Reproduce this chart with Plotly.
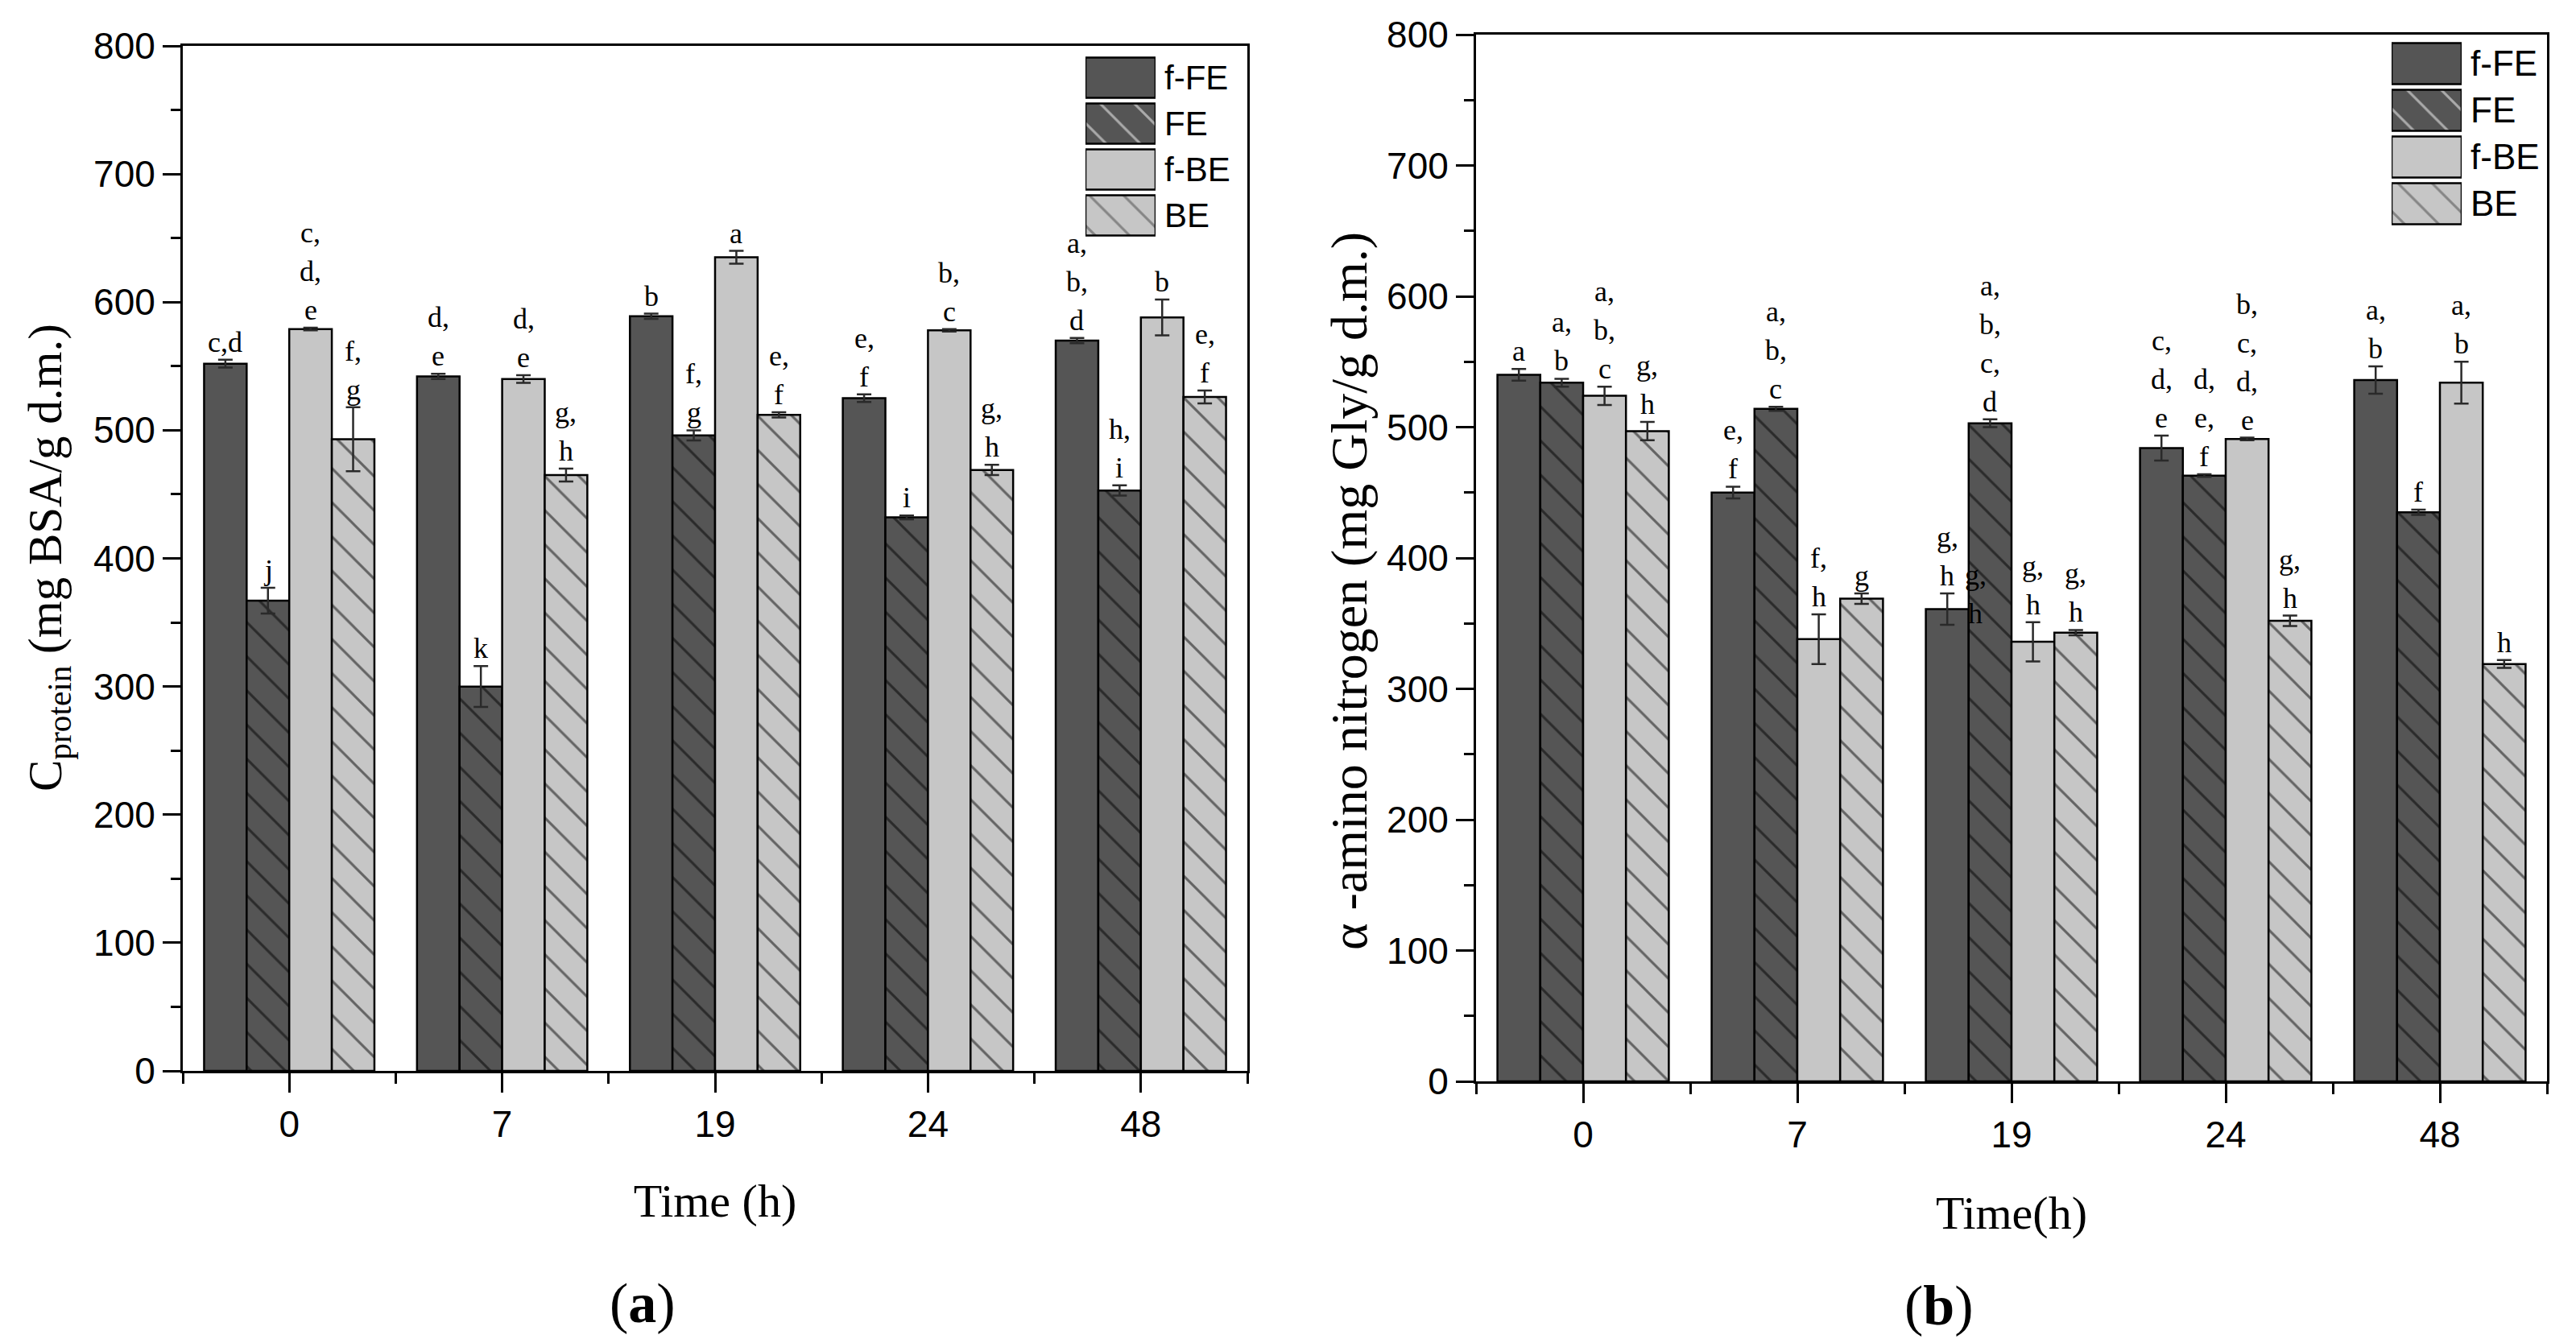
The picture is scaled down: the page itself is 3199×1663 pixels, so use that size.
import plotly.graph_objects as go

# ---------------- data ----------------
times = ["0", "7", "19", "24", "48"]
series = ["f-FE", "FE", "f-BE", "BE"]

# (a) C_protein (mg BSA/g d.m.)
prot_ffe = [552, 542, 589, 525, 570]
prot_ffe_err = [3, 2, 2, 3, 2]
prot_fe = [367, 300, 496, 432, 453]
prot_fe_err = [10, 16, 4, 1.5, 4]
prot_fbe = [579, 540, 635, 578, 588]
prot_fbe_err = [1, 3, 5, 1, 14]
prot_be = [493, 465, 512, 469, 526]
prot_be_err = [25, 5, 2, 4, 5]

prot_lab_ffe = [["c,d"], ["d,", "e"], ["b"], ["e,", "f"], ["a,", "b,", "d"]]
prot_lab_fe = [["j"], ["k"], ["f,", "g"], ["i"], ["h,", "i"]]
prot_lab_fbe = [["c,", "d,", "e"], ["d,", "e"], ["a"], ["b,", "c"], ["b"]]
prot_lab_be = [["f,", "g"], ["g,", "h"], ["e,", "f"], ["g,", "h"], ["e,", "f"]]

# (b) alpha-amino nitrogen (mg Gly/g d.m.)
amino_ffe = [540, 450, 361, 484, 536]
amino_ffe_err = [4.5, 4.5, 12, 9.5, 10.5]
amino_fe = [534, 514, 503, 463, 435]
amino_fe_err = [3, 1.5, 3, 1, 2]
amino_fbe = [524, 338, 336, 491, 534]
amino_fbe_err = [7, 19, 15, 1, 16]
amino_be = [497, 369, 343, 352, 319]
amino_be_err = [7, 4, 2, 4, 3]

amino_lab_ffe = [["a"], ["e,", "f"], ["g,", "h"], ["c,", "d,", "e"], ["a,", "b"]]
amino_lab_fe = [["a,", "b"], ["a,", "b,", "c"], ["a,", "b,", "c,", "d"], ["d,", "e,", "f"], ["f"]]
amino_lab_fbe = [["a,", "b,", "c"], ["f,", "h"], ["g,", "h"], ["b,", "c,", "d,", "e"], ["a,", "b"]]
amino_lab_be = [["g,", "h"], ["g"], ["g,", "h"], ["g,", "h"], ["h"]]
# stray duplicated label drawn over the FE bar at 19 h in panel (b)
amino_stray = ["g,", "h"]

# ---------------- styles ----------------
W, H = 3199, 1663
fills = ["#555555", "#555555", "#c6c6c6", "#c6c6c6"]
hatch = ["", "\\", "", "\\"]
BARGAP = 0.2
SANS = "Liberation Sans, Arial, sans-serif"
NARROW = "Liberation Sans Narrow, Arial Narrow, Liberation Sans, sans-serif"
SERIF = "Liberation Serif, Times New Roman, serif"

xs = list(range(len(times)))
nser = len(series)
bw = (1 - BARGAP) / nser
offs = [(-(nser - 1) / 2 + k) * bw for k in range(nser)]

fig = go.Figure()

panels = [
    dict(x="x", y="y",
         vals=[prot_ffe, prot_fe, prot_fbe, prot_be],
         errs=[prot_ffe_err, prot_fe_err, prot_fbe_err, prot_be_err],
         labs=[prot_lab_ffe, prot_lab_fe, prot_lab_fbe, prot_lab_be],
         fs=36),
    dict(x="x2", y="y2",
         vals=[amino_ffe, amino_fe, amino_fbe, amino_be],
         errs=[amino_ffe_err, amino_fe_err, amino_fbe_err, amino_be_err],
         labs=[amino_lab_ffe, amino_lab_fe, amino_lab_fbe, amino_lab_be],
         fs=36),
]

annotations = []
LINE_STEP = 48
for p in panels:
    for k in range(nser):
        fig.add_trace(go.Bar(
            x=xs, y=p["vals"][k], name=series[k], showlegend=False,
            xaxis=p["x"], yaxis=p["y"],
            marker=dict(color=fills[k], line=dict(color="black", width=2.5),
                        pattern=dict(shape=hatch[k], fgcolor="black", bgcolor=fills[k],
                                     size=30, solidity=0.1)),
            error_y=dict(type="data", array=p["errs"][k], visible=True,
                         color="#2a2a2a", thickness=2.5, width=9),
        ))
        for i in xs:
            lines = p["labs"][k][i]
            top = p["vals"][k][i] + p["errs"][k][i]
            n = len(lines)
            for j, txt in enumerate(lines):
                annotations.append(dict(
                    x=i + offs[k], y=top, xref=p["x"], yref=p["y"],
                    text=txt, showarrow=False, xanchor="center", yanchor="bottom",
                    yshift=(n - 1 - j) * LINE_STEP,
                    font=dict(family=SERIF, size=p["fs"], color="black")))

# stray label in panel (b), 19 h
i19 = times.index("19")
for j, txt in enumerate(amino_stray):
    annotations.append(dict(
        x=i19 + offs[1], y=amino_ffe[i19] + amino_ffe_err[i19], xref="x2", yref="y2",
        text=txt, showarrow=False, xanchor="center", yanchor="bottom",
        xshift=-18, yshift=-47 + (len(amino_stray) - 1 - j) * LINE_STEP,
        font=dict(family=SERIF, size=36, color="black")))

# custom legends (big pattern swatches) as small horizontal bar charts
for xa, ya in (("x3", "y3"), ("x4", "y4")):
    fig.add_trace(go.Bar(
        x=[1] * nser, y=series, orientation="h", width=0.88, showlegend=False,
        xaxis=xa, yaxis=ya, hoverinfo="skip",
        marker=dict(color=fills, line=dict(color="black", width=2.5),
                    pattern=dict(shape=hatch, fgcolor="black", bgcolor=fills,
                                 size=30, solidity=0.1)),
    ))

# y-axis titles (placed as rotated annotations to match reference position)
annotations.append(dict(x=60 / W, y=1 - 693 / H, xref="paper", yref="paper",
                        text="C<sub>protein</sub> (mg BSA/g d.m.)", textangle=-90,
                        showarrow=False, xanchor="center", yanchor="middle",
                        font=dict(family=SERIF, size=59, color="black")))
annotations.append(dict(x=1676 / W, y=1 - 734 / H, xref="paper", yref="paper",
                        text="\u03b1 -amino nitrogen (mg Gly/g d.m.)", textangle=-90,
                        showarrow=False, xanchor="center", yanchor="middle",
                        font=dict(family=SERIF, size=64, color="black")))

# panel labels
annotations.append(dict(x=798 / W, y=1 - 1618 / H, xref="paper", yref="paper",
                        text="(<b>a</b>)", showarrow=False, xanchor="center", yanchor="middle",
                        font=dict(family=SERIF, size=70, color="black")))
annotations.append(dict(x=2408 / W, y=1 - 1621 / H, xref="paper", yref="paper",
                        text="(<b>b</b>)", showarrow=False, xanchor="center", yanchor="middle",
                        font=dict(family=SERIF, size=70, color="black")))


def xaxis_cfg(domain, title, standoff):
    return dict(
        domain=domain, range=[-0.5, len(times) - 0.5],
        tickmode="array", tickvals=xs, ticktext=times,
        ticks="outside", ticklen=24, tickwidth=3, tickcolor="black",
        minor=dict(tickmode="array", tickvals=[v - 0.5 for v in xs] + [xs[-1] + 0.5],
                   ticks="outside", ticklen=13, tickwidth=3, tickcolor="black"),
        showline=True, linewidth=3, linecolor="black", mirror=True,
        showgrid=False, zeroline=False,
        tickfont=dict(family=SANS, size=46, color="black"),
        title=dict(text=title, font=dict(family=SERIF, size=58, color="black"), standoff=standoff),
        automargin=False,
    )


def yaxis_cfg(domain, anchor):
    return dict(
        domain=domain, anchor=anchor, range=[0, 800],
        tickmode="linear", tick0=0, dtick=100,
        ticks="outside", ticklen=22, tickwidth=3, tickcolor="black",
        minor=dict(dtick=50, ticks="outside", ticklen=12, tickwidth=3, tickcolor="black"),
        showline=True, linewidth=3, linecolor="black", mirror=True,
        showgrid=False, zeroline=False,
        tickfont=dict(family=SANS, size=46, color="black"),
        automargin=False,
    )


def leg_x(domain):
    return dict(domain=domain, range=[0, 1], visible=False, fixedrange=True)


def leg_y(domain, anchor, size):
    return dict(domain=domain, anchor=anchor, type="category",
                categoryorder="array", categoryarray=series, autorange="reversed",
                side="right", showline=False, ticks="", showgrid=False, zeroline=False,
                ticklabelstandoff=10,
                tickfont=dict(family=NARROW, size=size, color="black"))


fig.update_layout(
    width=W, height=H,
    margin=dict(l=0, r=0, t=0, b=0),
    paper_bgcolor="white", plot_bgcolor="white",
    barmode="group", bargap=BARGAP, bargroupgap=0,
    xaxis=dict(xaxis_cfg([227 / W, 1549 / W], "Time (h)", 50), anchor="y"),
    yaxis=yaxis_cfg([1 - 1330 / H, 1 - 57 / H], "x"),
    xaxis2=dict(xaxis_cfg([1833 / W, 3163 / W], "Time(h)", 52), anchor="y2"),
    yaxis2=yaxis_cfg([1 - 1343 / H, 1 - 43 / H], "x2"),
    xaxis3=dict(leg_x([1348 / W, 1435 / W]), anchor="y3"),
    yaxis3=leg_y([1 - 296 / H, 1 - 68 / H], "x3", 42),
    xaxis4=dict(leg_x([2970 / W, 3057 / W]), anchor="y4"),
    yaxis4=leg_y([1 - 282 / H, 1 - 50 / H], "x4", 44),
    annotations=annotations,
    showlegend=False,
)

fig.write_html("out.html", config={"displayModeBar": False},
               post_script="document.body.style.margin='0';document.body.style.overflow='hidden';")
